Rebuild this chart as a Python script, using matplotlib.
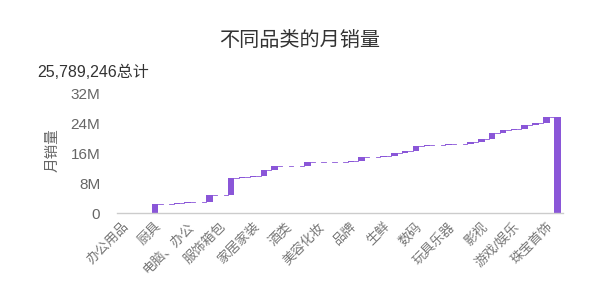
import matplotlib
matplotlib.use('Agg')
import matplotlib.pyplot as plt
import numpy as np

plt.rcParams['font.family'] = ['Liberation Sans', 'Noto Sans CJK SC']

# only every third category name is shown on the axis
tick_labels = ['办公用品', '厨具', '电脑、办公', '服饰箱包', '家居家装', '酒类', '美容化妆',
               '品牌', '生鲜', '数码', '玩具乐器', '影视', '游戏/娱乐', '珠宝首饰']

# monthly sales per category, in millions (waterfall steps)
increments = [0.03, 0.02, 0.03, 2.52, 0.05, 0.05, 0.40, 0.05, 1.80, 0.05,
              4.50, 0.20, 0.30, 1.60, 1.00, 0.15, 0.05, 0.90, 0.05, 0.10,
              0.05, 0.20, 0.90, 0.10, 0.20, 1.00, 0.40, 1.30, 0.20, 0.10,
              0.20, 0.05, 0.45, 0.80, 1.60, 1.00, 0.20, 1.10, 0.50, 1.589246]

y_ticks = [0, 8e6, 16e6, 24e6, 32e6]

purple = '#8a56d8'
grey = '#666666'

vals = np.array(increments) * 1e6
ends = np.cumsum(vals)
starts = ends - vals
total = ends[-1]
x = np.arange(len(vals))
x_total = len(vals)

fig = plt.figure(figsize=(6, 3.01), dpi=100)
ax = fig.add_axes([0.195, 0.291, 0.743, 0.397])

bw = 0.6
ax.bar(x, vals, bottom=starts, width=bw, color=purple)
ax.bar(x_total, total, width=bw, color=purple)

# connectors between consecutive bars
for i in range(len(vals)):
    ax.plot([x[i] + bw / 2, x[i] + 1 - bw / 2], [ends[i], ends[i]], color=purple, lw=0.6)

ax.set_xlim(-0.5, x_total + 0.5)
ax.set_ylim(0, 32e6)

for s in ['left', 'top', 'right']:
    ax.spines[s].set_visible(False)
ax.spines['bottom'].set_color('#cccccc')
ax.spines['bottom'].set_linewidth(1)

ax.tick_params(length=0)
ax.set_xticks(x[::3])
ax.set_xticklabels(tick_labels, rotation=45, ha='right', rotation_mode='anchor',
                   fontsize=9.5, color='#777777')
ax.tick_params(axis='x', pad=5)

ax.set_yticks(y_ticks)
ax.set_yticklabels(['0' if v == 0 else f'{v / 1e6:.0f}M' for v in y_ticks],
                   fontsize=11, color=grey)
ax.tick_params(axis='y', pad=12)

fig.text(0.088, 0.5, '月销量', rotation=90, ha='center', va='center',
         fontsize=10.5, color=grey)
fig.text(0.5, 0.867, '不同品类的月销量', ha='center', va='center',
         fontsize=14.5, color='#333333')
fig.text(0.062, 0.761, f'{total:,.0f}总计', ha='left', va='center',
         fontsize=11.5, color='#333333')

fig.savefig('out.png', dpi=100)
